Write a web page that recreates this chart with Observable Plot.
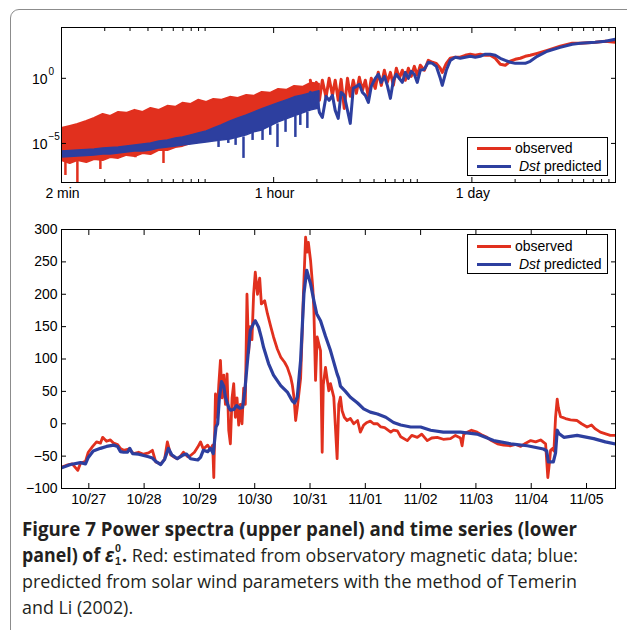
<!DOCTYPE html>
<html>
<head>
<meta charset="utf-8">
<script src="https://cdn.jsdelivr.net/npm/d3@7"></script>
<script src="https://cdn.jsdelivr.net/npm/@observablehq/plot@0.6"></script>
<style>
html, body { margin: 0; padding: 0; background: #fff; }
#fig { position: relative; width: 627px; height: 630px; overflow: hidden; font-family: "Liberation Sans", Arial, sans-serif; }
#border { position: absolute; left: 10px; top: 9px; width: 700px; height: 700px; border: 1.5px solid #8c8c8c; border-radius: 9px; box-sizing: border-box; pointer-events: none; z-index: 5; }
#upper { position: absolute; left: 0; top: 0; }
#lower { position: absolute; left: 0; top: 205px; }
.legend { position: absolute; left: 467px; width: 141px; border: 1px solid #000; background: #fff; box-sizing: border-box; font-size: 14px; z-index: 3; }
.legend .sw { position: absolute; left: 9px; width: 34px; height: 3px; }
.legend .tx { position: absolute; height: 18px; line-height: 18px; white-space: nowrap; color: #000; }
#caption { position: absolute; left: 22px; top: 516px; font-family: "Open Sans", sans-serif; font-size: 19px; line-height: 26px; color: #231f20; white-space: nowrap; }
#caption .ln { display: block; height: 26px; transform-origin: 0 0; }
#caption .ss { display: inline-block; font-family: "Liberation Sans", Arial, sans-serif; font-weight: bold; font-size: 11.5px; line-height: 13px; vertical-align: -3px; margin-left: 1px; margin-right: 1px; text-align: left; }
</style>
</head>
<body>
<div id="fig">
  <div id="border"></div>
  <div id="upper"></div>
  <div id="lower"></div>
  <div class="legend" id="leg1" style="top:137px;height:39px;"></div>
  <div class="legend" id="leg2" style="top:234px;height:40px;"></div>
  <div id="caption">
    <div class="ln"><span><b>Figure 7 Power spectra (upper panel) and time series (lower</b></span></div>
    <div class="ln"><span><b>panel) of <i>ε</i><span class="ss">0<br>1</span>.</b> Red: estimated from observatory magnetic data; blue:</span></div>
    <div class="ln"><span>predicted from solar wind parameters with the method of Temerin</span></div>
    <div class="ln"><span>and Li (2002).</span></div>
  </div>
</div>
<script>
// ---------------- data: upper panel (power spectra) ----------------
// period in minutes; power stored as log10 exponents
const bandPeriod = [2, 2.3, 2.6, 3, 3.4, 3.9, 4.4, 5, 5.7, 6.5, 7.4, 8.4, 9.6, 11, 12.5, 14, 16, 18, 20.5, 23, 26, 30, 34, 39, 44, 50, 57, 65, 74, 84, 96, 110, 125];
const obsBandHiExp = [-3.85, -3.69, -3.54, -3.31, -3.08, -2.77, -2.92, -2.62, -2.69, -2.46, -2.62, -2.31, -2.46, -2.15, -2.23, -1.92, -2.0, -1.69, -1.85, -1.62, -1.69, -1.46, -1.54, -1.31, -1.38, -1.08, -1.15, -0.85, -0.92, -0.62, -0.69, -0.38, -0.46];
const obsBandLoExp = [-6.31, -6.54, -6.31, -6.46, -6.23, -6.31, -6.08, -6.15, -5.92, -6.0, -5.77, -5.85, -5.54, -5.54, -5.31, -5.23, -5.0, -4.92, -4.69, -4.54, -4.31, -4.0, -3.77, -3.38, -3.23, -2.85, -2.62, -2.31, -2.08, -1.77, -1.62, -1.38, -1.15];
const predBandHiExp = [-5.62, -5.58, -5.54, -5.5, -5.46, -5.38, -5.35, -5.31, -5.23, -5.15, -5.08, -5.0, -4.85, -4.77, -4.62, -4.54, -4.38, -4.23, -4.08, -3.85, -3.62, -3.31, -3.08, -2.85, -2.62, -2.38, -2.15, -1.92, -1.69, -1.46, -1.31, -1.15, -1.0];
const predBandLoExp = [-6.08, -6.04, -6.0, -5.96, -5.92, -5.85, -5.85, -5.77, -5.69, -5.62, -5.62, -5.54, -5.38, -5.31, -5.23, -5.15, -5.08, -5.0, -4.92, -4.85, -4.77, -4.69, -4.54, -4.38, -4.15, -4.0, -3.69, -3.38, -3.15, -2.92, -2.69, -2.46, -2.31];

const obsDipPeriod = [2.13, 2.58, 3.73, 4.76, 6.54, 10.26];
const obsDipFromExp = [-6.3, -6.3, -6.2, -6.0, -5.9, -5.5];
const obsDipToExp = [-7.46, -8.0, -7.0, -6.15, -6.1, -6.54];
const predDipPeriod = [24.8, 29, 32.6, 37, 42.8, 50.2, 56.8, 63.8, 72.6, 85, 92, 103];
const predDipFromExp = [-4.85, -4.7, -4.6, -4.5, -4.1, -3.9, -3.6, -3.5, -3.1, -2.9, -2.7, -2.6];
const predDipToExp = [-5.31, -5.0, -5.15, -6.15, -4.77, -4.77, -4.38, -5.31, -4.15, -4.54, -3.62, -3.85];

const linePeriod = [108, 113, 119, 125, 131, 139, 146, 154, 161, 169, 177, 186, 196, 205, 215, 226, 237, 249, 261, 274, 287, 306, 321, 337, 354, 371, 390, 409, 429, 450, 472, 495, 520, 545, 572, 600, 630, 672, 716, 764, 814, 868, 896, 956, 1019, 1104, 1196, 1296, 1404, 1521, 1648, 1785, 1934, 2095, 2270, 2459, 2664, 2886, 3127, 3388, 3670, 4106, 4820, 5936, 7190, 8180, 10404, 12214, 14400];
const obsLineExp = [-0.15, -1.31, -0.31, -1.69, -0.15, -1.46, 0, -1.31, -0.15, -1.69,
  -0.08, -2.31, 0, -1.38, -0.15, -1.15, 0.08, -0.92, -0.15, -1.46,
  0, -0.77, 0.46, -0.54, 0.62, -0.31, 0.46, -0.54, 0.77, 0,
  0.62, -0.15, 0.77, 0.15, 0.92, 0.23, 1.0, 0.62, 1.38, 1.23,
  1.15, 0.77, 0.46, 1.15, 1.54, 1.62, 1.62, 1.77, 1.85, 1.77,
  1.85, 1.77, 1.77, 1.54, 1.08, 1.0, 1.31, 1.46, 1.54, 1.69,
  1.77, 1.92, 2.15, 2.46, 2.69, 2.69, 2.77, 2.85, 2.77];
const predLineExp = [-1.08, -2.08, -1.31, -2.62, -3.0, -1.38, -1.69, -1.31, -2.46, -3.08,
  -1.08, -1.31, -2.46, -3.46, -0.77, -0.62, -0.46, -1.08, -1.31, -1.85,
  -0.62, 0, 0.31, -0.31, 0.15, -0.54, -1.54, -0.15, 0.31, 0,
  -0.31, 0.46, 0, 0.54, 0.31, -0.31, 0.62, 0.69, 1.23, 1.15,
  0.92, 0, -0.54, 0.62, 1.38, 1.62, 1.54, 1.62, 1.69, 1.62,
  1.69, 1.85, 1.85, 1.77, 1.54, 1.38, 1.23, 1.15, 1.15, 1.15,
  1.31, 1.69, 2.08, 2.38, 2.62, 2.69, 2.77, 2.85, 3.0];

const upperMajorTicks = [2, 60, 1440];
const upperMajorLabels = ["2 min", "1 hour", "1 day"];
const upperMinorTicks = [4, 6, 8, 10, 12, 14, 16, 18, 20, 120, 180, 240, 300, 360, 420, 480, 540, 600, 2880, 4320, 5760, 7200, 8640, 10080, 11520, 12960];
const upperYTicks = [1, 1e-5];
const upperYExpLabels = ["0", "\u22125"];

// ---------------- data: lower panel (time series) ----------------
// [days since 2003-10-27 00:00 UT, nT]
const observedSeries = [[-0.49,-67],[-0.40,-64],[-0.30,-62],[-0.20,-72],[-0.15,-61],[-0.06,-58],[-0.01,-44],[0.07,-35],[0.14,-28],[0.21,-30],
  [0.25,-21],[0.32,-27],[0.39,-25],[0.45,-30],[0.52,-32],[0.57,-38],[0.63,-41],[0.72,-39],[0.81,-46],[0.90,-44],
  [0.99,-47],[1.08,-45],[1.15,-41],[1.21,-59],[1.30,-62],[1.37,-55],[1.42,-28],[1.48,-48],[1.55,-52],[1.60,-54],
  [1.66,-50],[1.71,-44],[1.79,-51],[1.84,-49],[1.91,-44],[1.97,-36],[2.02,-28],[2.07,-39],[2.15,-33],[2.20,-40],
  [2.24,-33],[2.26,-83],[2.29,46],[2.32,10],[2.35,60],[2.38,98],[2.41,40],[2.44,75],[2.47,30],[2.50,77],
  [2.53,-10],[2.56,-31],[2.59,40],[2.62,62],[2.65,10],[2.68,40],[2.71,-2],[2.74,30],[2.77,0],[2.80,55],
  [2.83,30],[2.86,200],[2.89,110],[2.92,150],[2.95,130],[2.98,200],[3.01,234],[3.05,200],[3.07,215],[3.09,225],
  [3.12,185],[3.18,190],[3.23,170],[3.29,150],[3.34,134],[3.41,115],[3.47,103],[3.54,95],[3.59,87],[3.65,72],
  [3.68,60],[3.71,41],[3.74,5],[3.77,25],[3.79,40],[3.83,70],[3.86,144],[3.88,200],[3.92,288],[3.95,265],
  [3.97,280],[4.01,252],[4.05,210],[4.07,175],[4.10,67],[4.13,134],[4.16,123],[4.19,113],[4.22,-44],[4.24,60],
  [4.28,87],[4.34,51],[4.37,62],[4.43,41],[4.49,-54],[4.52,30],[4.55,41],[4.58,20],[4.62,10],[4.67,5],
  [4.73,8],[4.79,0],[4.86,5],[4.91,-13],[4.97,-2],[5.03,2],[5.09,4],[5.15,0],[5.22,0],[5.28,-5],
  [5.35,-6],[5.46,-13],[5.51,-10],[5.58,-11],[5.64,-20],[5.76,-26],[5.84,-18],[5.94,-21],[6.02,-16],[6.12,-26],
  [6.20,-22],[6.30,-21],[6.41,-24],[6.54,-23],[6.63,-18],[6.72,-22],[6.75,-34],[6.78,-16],[6.84,-13],[6.92,-10],
  [7.02,-13],[7.10,-17],[7.20,-21],[7.28,-26],[7.39,-31],[7.50,-33],[7.63,-34],[7.72,-32],[7.81,-35],[7.90,-30],
  [7.99,-26],[8.08,-28],[8.17,-25],[8.26,-31],[8.30,-83],[8.33,-60],[8.35,-41],[8.39,-38],[8.41,-42],[8.44,10],
  [8.47,38],[8.49,25],[8.53,11],[8.62,8],[8.71,6],[8.83,5],[8.91,0],[9.01,-5],[9.09,-2],[9.16,-8],
  [9.25,-13],[9.36,-16],[9.43,-18],[9.52,-18]];
const predictedSeries = [[-0.49,-68],[-0.33,-63],[-0.15,-60],[-0.06,-62],[-0.01,-52],[0.08,-42],[0.21,-38],[0.32,-35],[0.45,-33],[0.52,-35],
  [0.57,-43],[0.63,-44],[0.70,-44],[0.74,-38],[0.79,-46],[0.90,-47],[0.99,-49],[1.08,-51],[1.15,-53],[1.21,-58],
  [1.30,-63],[1.37,-55],[1.44,-38],[1.50,-48],[1.60,-54],[1.71,-48],[1.77,-47],[1.84,-54],[1.97,-56],[2.02,-52],
  [2.07,-41],[2.15,-43],[2.20,-38],[2.25,-46],[2.27,-30],[2.30,-5],[2.33,0],[2.36,40],[2.40,65],[2.44,58],
  [2.47,41],[2.53,25],[2.56,21],[2.62,22],[2.67,28],[2.73,24],[2.78,25],[2.82,50],[2.87,98],[2.92,144],
  [2.98,155],[3.01,159],[3.07,149],[3.12,133],[3.16,118],[3.25,93],[3.34,75],[3.47,59],[3.59,49],[3.68,35],
  [3.72,32],[3.77,41],[3.79,60],[3.83,98],[3.89,201],[3.94,237],[4.01,216],[4.07,190],[4.12,170],[4.19,159],
  [4.28,135],[4.37,113],[4.49,77],[4.52,70],[4.55,58],[4.64,50],[4.73,41],[4.86,32],[4.97,23],[5.09,18],
  [5.22,15],[5.37,10],[5.51,2],[5.64,-2],[5.82,-5],[6.00,-5],[6.18,-10],[6.41,-13],[6.72,-13],[7.02,-16],
  [7.32,-26],[7.63,-31],[7.93,-34],[8.22,-39],[8.28,-42],[8.31,-59],[8.40,-59],[8.44,-45],[8.47,-10],[8.50,-15],
  [8.59,-21],[8.83,-18],[9.13,-23],[9.34,-28],[9.52,-31]];
const lowerDayDomain = [-0.494, 9.524];
const lowerTickDays = [0, 1, 2, 3, 4, 5, 6, 7, 8, 9];
const lowerTickLabels = ["10/27", "10/28", "10/29", "10/30", "10/31", "11/01", "11/02", "11/03", "11/04", "11/05"];
const lowerYTicks = [-100, -50, 0, 50, 100, 150, 200, 250, 300];
const lowerYLabels = ["\u2212100", "\u221250", "0", "50", "100", "150", "200", "250", "300"];

const seriesNames = ["observed", "Dst predicted"];

// ---------------- build ----------------
const RED = "#e1301e", BLUE = "#2d3f9f";
const FONT = '"Liberation Sans", Arial, Helvetica, sans-serif';
const style = {fontFamily: FONT, fontSize: "14px", color: "#000", background: "transparent", overflow: "visible"};

const band = bandPeriod.map((p, i) => ({p, rhi: 10 ** obsBandHiExp[i], rlo: 10 ** obsBandLoExp[i], bhi: 10 ** predBandHiExp[i], blo: 10 ** predBandLoExp[i]}));
const obsDips = obsDipPeriod.map((p, i) => ({p, a: 10 ** obsDipFromExp[i], b: 10 ** obsDipToExp[i]}));
const predDips = predDipPeriod.map((p, i) => ({p, a: 10 ** predDipFromExp[i], b: 10 ** predDipToExp[i]}));
const specLine = linePeriod.map((p, i) => ({p, r: 10 ** obsLineExp[i], b: 10 ** predLineExp[i]}));

const upper = Plot.plot({
  width: 627, height: 205,
  marginLeft: 61, marginRight: 12, marginTop: 27, marginBottom: 23,
  style,
  x: {type: "log", domain: [2, 14400], label: null},
  y: {type: "log", domain: [1e-8, 8e3], label: null},
  marks: [
    Plot.areaY(band, {x: "p", y1: "rlo", y2: "rhi", fill: RED, stroke: RED, strokeWidth: 2, clip: true}),
    Plot.ruleX(obsDips, {x: "p", y1: "a", y2: "b", stroke: RED, strokeWidth: 2.5, clip: true}),
    Plot.line(specLine, {x: "p", y: "r", stroke: RED, strokeWidth: 3, clip: true}),
    Plot.areaY(band, {x: "p", y1: "blo", y2: "bhi", fill: BLUE, stroke: BLUE, strokeWidth: 1.5, clip: true}),
    Plot.ruleX(predDips, {x: "p", y1: "a", y2: "b", stroke: BLUE, strokeWidth: 2.5, clip: true}),
    Plot.line(specLine, {x: "p", y: "b", stroke: BLUE, strokeWidth: 3, clip: true}),
    Plot.frame({stroke: "#000", strokeWidth: 1}),
    Plot.axisX(upperMinorTicks, {anchor: "bottom", tickSize: -3, tickFormat: () => "", label: null}),
    Plot.axisX(upperMinorTicks, {anchor: "top", tickSize: -3, tickFormat: () => "", label: null}),
    Plot.axisX(upperMajorTicks, {anchor: "bottom", tickSize: -5, tickFormat: () => "", label: null}),
    Plot.axisX(upperMajorTicks, {anchor: "top", tickSize: -5, tickFormat: () => "", label: null}),
    Plot.text(upperMajorTicks, {x: d => d, text: (d, i) => upperMajorLabels[i], frameAnchor: "bottom", lineAnchor: "top", dy: 6, dx: 1, fontSize: 14}),
    Plot.axisY(upperYTicks, {anchor: "left", tickSize: -5, tickFormat: () => "", label: null}),
    Plot.axisY(upperYTicks, {anchor: "right", tickSize: -5, tickFormat: () => "", label: null}),
    Plot.text(upperYTicks, {y: d => d, text: () => "10", frameAnchor: "left", textAnchor: "end", dx: -14, dy: 1, fontSize: 14}),
    Plot.text(upperYTicks, {y: d => d, text: (d, i) => upperYExpLabels[i], frameAnchor: "left", textAnchor: "start", dx: -13, dy: -7, fontSize: 10})
  ]
});
document.getElementById("upper").appendChild(upper);

const T0 = Date.UTC(2003, 9, 27), DAY = 864e5;
const toDate = d => new Date(T0 + d * DAY);
const obsTab = observedSeries.map(([d, v]) => ({t: toDate(d), v}));
const predTab = predictedSeries.map(([d, v]) => ({t: toDate(d), v}));
const tickDates = lowerTickDays.map(toDate);

const lower = Plot.plot({
  width: 627, height: 305,
  marginLeft: 61, marginRight: 12, marginTop: 24, marginBottom: 22,
  style,
  x: {type: "utc", domain: lowerDayDomain.map(toDate), label: null},
  y: {domain: [-100, 300], label: null},
  marks: [
    Plot.line(obsTab, {x: "t", y: "v", stroke: RED, strokeWidth: 2.8, clip: true}),
    Plot.line(predTab, {x: "t", y: "v", stroke: BLUE, strokeWidth: 3.2, clip: true}),
    Plot.frame({stroke: "#000", strokeWidth: 1}),
    Plot.axisX(tickDates, {anchor: "bottom", tickSize: -5, tickFormat: () => "", label: null}),
    Plot.axisX(tickDates, {anchor: "top", tickSize: -5, tickFormat: () => "", label: null}),
    Plot.axisX(tickDates, {anchor: "bottom", tickSize: 0, tickPadding: 6, tickFormat: d => lowerTickLabels[tickDates.findIndex(t => +t === +d)], label: null}),
    Plot.axisY(lowerYTicks, {anchor: "left", tickSize: -5, tickFormat: () => "", label: null}),
    Plot.axisY(lowerYTicks, {anchor: "right", tickSize: -5, tickFormat: () => "", label: null}),
    Plot.axisY(lowerYTicks, {anchor: "left", tickSize: 0, tickPadding: 4, tickFormat: d => lowerYLabels[lowerYTicks.indexOf(d)], label: null})
  ]
});
document.getElementById("lower").appendChild(lower);

// legends
function legend(id, centers) {
  const el = document.getElementById(id);
  const colors = [RED, BLUE];
  seriesNames.forEach((name, i) => {
    const sw = document.createElement("div");
    sw.className = "sw";
    sw.style.background = colors[i];
    sw.style.top = (centers[i] - 1.5) + "px";
    el.appendChild(sw);
    const tx = document.createElement("div");
    tx.className = "tx";
    tx.style.top = (centers[i] - 9) + "px";
    tx.style.left = (i === 0 ? 47 : 51) + "px";
    if (i === 1) {
      const parts = name.split(" ");
      tx.innerHTML = "<i>" + parts[0] + "</i> " + parts.slice(1).join(" ");
    } else tx.textContent = name;
    el.appendChild(tx);
  });
}
legend("leg1", [10, 28]);
legend("leg2", [11, 29]);

// fit caption lines to the reference line widths
const lines = [...document.querySelectorAll("#caption .ln")];
const targets = [555, 556, 555];
let lastScale = 1;
lines.forEach((ln, i) => {
  const w = ln.firstElementChild.getBoundingClientRect().width;
  const s = i < targets.length ? targets[i] / w : lastScale;
  lastScale = s;
  ln.style.transform = `scaleX(${s})`;
});
</script>
</body>
</html>
